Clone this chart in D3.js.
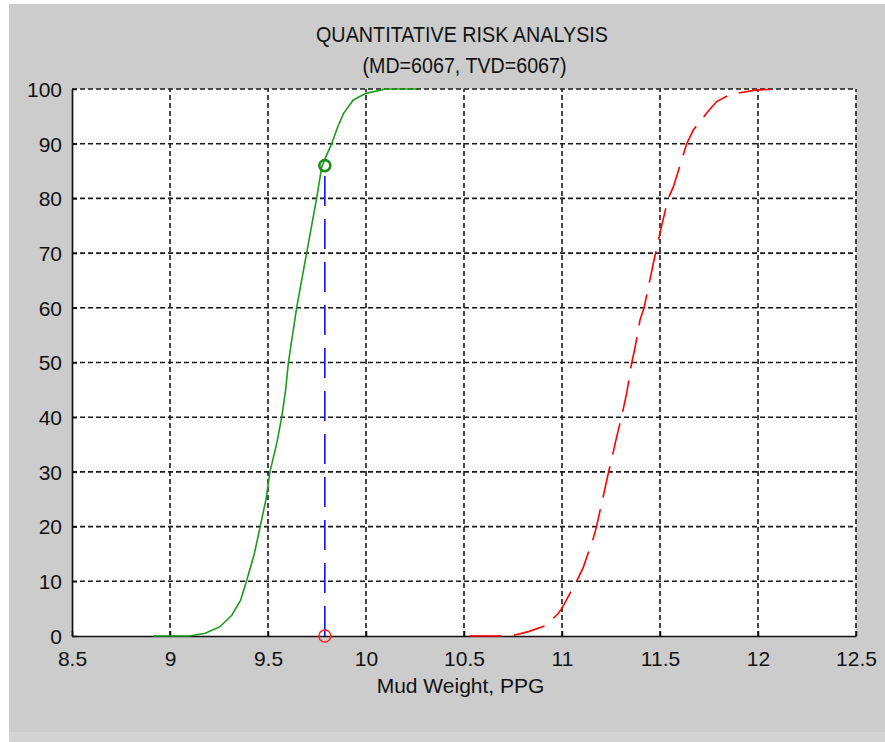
<!DOCTYPE html>
<html>
<head>
<meta charset="utf-8">
<script src="https://cdn.jsdelivr.net/npm/d3@7"></script>
<style>
  html, body { margin: 0; padding: 0; background: #ffffff; }
  svg { display: block; }
  text { font-family: "Liberation Sans", Arial, sans-serif; fill: #111; }
</style>
</head>
<body>
<svg id="chart" width="885" height="742"></svg>
<script>
// Cumulative probability (%) versus mud weight (ppg)
const porePressureX = [8.915, 9.0, 9.10, 9.18, 9.255, 9.315, 9.36, 9.39, 9.43, 9.46, 9.49, 9.51, 9.545, 9.57, 9.59, 9.604, 9.646, 9.697, 9.748, 9.774, 9.80, 9.825, 9.855, 9.885, 9.935, 10.0, 10.1, 10.26];
const porePressureY = [0, 0, 0, 0.5, 1.7, 3.8, 6.5, 10, 15, 20, 25, 30, 35.3, 40, 45, 50, 60, 70, 80, 85.7, 88, 90, 93, 95.5, 98, 99.2, 100, 100];

const fractureX = [10.53, 10.69, 10.76, 10.83, 10.918, 10.98, 11.0, 11.073, 11.107, 11.16, 11.176, 11.21, 11.236, 11.279, 11.304, 11.33, 11.356, 11.372, 11.398, 11.418, 11.452, 11.466, 11.503, 11.542, 11.568, 11.636, 11.67, 11.738, 11.789, 11.857, 11.985, 12.12];
const fractureY = [0, 0, 0.2, 0.8, 1.9, 4.1, 5.1, 9.9, 12.4, 17.9, 20, 25.5, 29.7, 36.4, 40.1, 44.4, 50, 52.6, 57.8, 59.9, 65.7, 68.1, 74.2, 80, 82.1, 90, 92.5, 95.6, 97.7, 99.0, 99.8, 100];

// Selected mud weight and its probability on the green curve
const selectedMW = 9.79;
const selectedProb = 86;

const xTicks = [8.5, 9, 9.5, 10, 10.5, 11, 11.5, 12, 12.5];
const yTicks = [0, 10, 20, 30, 40, 50, 60, 70, 80, 90, 100];

const titleLines = ["QUANTITATIVE RISK ANALYSIS", "(MD=6067, TVD=6067)"];
const xLabel = "Mud Weight, PPG";

const svg = d3.select("#chart");

// figure background
svg.append("rect").attr("x", 9).attr("y", 4).attr("width", 876).attr("height", 738).attr("fill", "#cccccc");
svg.append("rect").attr("x", 9).attr("y", 732).attr("width", 876).attr("height", 10).attr("fill", "#d3d3d3");

const plotL = 72, plotR = 856, plotT = 89, plotB = 636;
const x = d3.scaleLinear().domain([8.5, 12.5]).range([plotL, plotR]);
const y = d3.scaleLinear().domain([0, 100]).range([plotB, plotT]);

// axes area
svg.append("rect").attr("x", plotL).attr("y", plotT).attr("width", plotR - plotL).attr("height", plotB - plotT).attr("fill", "#ffffff");

// grid
const grid = svg.append("g").attr("stroke", "#1a1a1a").attr("stroke-width", 1.6).attr("stroke-dasharray", "5,3").attr("fill", "none");
grid.selectAll("line.gx").data(xTicks.filter(d => d !== 8.5)).join("line")
  .attr("class", "gx")
  .attr("x1", d => x(d)).attr("x2", d => x(d))
  .attr("y1", plotB).attr("y2", plotT);
grid.selectAll("line.gy").data(yTicks.filter(d => d !== 0)).join("line")
  .attr("class", "gy")
  .attr("x1", plotL).attr("x2", plotR)
  .attr("y1", d => y(d)).attr("y2", d => y(d));

// axes
const xAxis = d3.axisBottom(x).tickValues(xTicks).tickFormat(d3.format("")).tickSizeInner(-5).tickSizeOuter(0);
const yAxis = d3.axisLeft(y).tickValues(yTicks).tickFormat(d3.format("")).tickSizeInner(-5).tickSizeOuter(0);

const gx = svg.append("g").attr("transform", `translate(0,${plotB})`).call(xAxis);
const gy = svg.append("g").attr("transform", `translate(${plotL},0)`).call(yAxis);

[gx, gy].forEach(g => {
  g.select(".domain").attr("stroke", "#111").attr("stroke-width", 1.7);
  g.selectAll(".tick line").attr("stroke", "#111").attr("stroke-width", 1.5);
  g.selectAll(".tick text").style("font-size", "21px").attr("fill", "#111")
    .style("font-family", '"Liberation Sans", Arial, sans-serif');
});
gx.selectAll(".tick text").attr("y", 30).attr("dy", null);
gy.selectAll(".tick text").attr("x", -10).attr("dy", "0.35em");

// curves
const line = d3.line().x(d => x(d[0])).y(d => y(d[1]));
const greenData = porePressureX.map((v, i) => [v, porePressureY[i]]);
const redData = fractureX.map((v, i) => [v, fractureY[i]]);

svg.append("path").datum(greenData).attr("d", line)
  .attr("fill", "none").attr("stroke", "#1f9a1f").attr("stroke-width", 1.6);
svg.append("path").datum(redData).attr("d", line)
  .attr("fill", "none").attr("stroke", "#ff0000").attr("stroke-width", 1.6)
  .attr("stroke-dasharray", "32,12");

// selected mud weight drop line and markers
svg.append("line")
  .attr("x1", x(selectedMW)).attr("x2", x(selectedMW))
  .attr("y1", y(0)).attr("y2", y(selectedProb))
  .attr("stroke", "#1010ff").attr("stroke-width", 1.6).attr("stroke-dasharray", "30,13");
svg.append("circle").attr("cx", x(selectedMW)).attr("cy", y(selectedProb)).attr("r", 5.5)
  .attr("fill", "none").attr("stroke", "#1a8f1a").attr("stroke-width", 2.6);
svg.append("circle").attr("cx", x(selectedMW)).attr("cy", y(0)).attr("r", 6)
  .attr("fill", "none").attr("stroke", "#ff2020").attr("stroke-width", 1.4);

// titles
svg.append("text").attr("x", 462).attr("y", 41.5).attr("text-anchor", "middle")
  .attr("textLength", 292).attr("lengthAdjust", "spacingAndGlyphs")
  .style("font-size", "22px").text(titleLines[0]);
svg.append("text").attr("x", 464.5).attr("y", 73).attr("text-anchor", "middle")
  .attr("textLength", 204).attr("lengthAdjust", "spacingAndGlyphs")
  .style("font-size", "22px").text(titleLines[1]);
svg.append("text").attr("x", 460.5).attr("y", 693).attr("text-anchor", "middle")
  .style("font-size", "21px").text(xLabel);
</script>
</body>
</html>
